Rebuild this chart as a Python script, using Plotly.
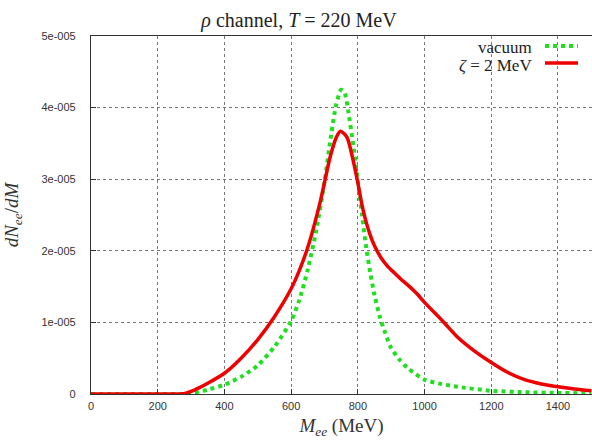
import plotly.graph_objects as go

# ---- data ----
m_vac = [0, 100, 200, 280, 300, 350, 400, 450, 500, 550, 600, 625, 650, 675, 700, 720, 735, 750,
         760, 772, 787, 800, 812, 825, 837, 850, 867, 880, 900, 925, 950, 1000, 1050, 1100, 1200,
         1300, 1400, 1500]
vac = [0, 0, 0, 0, 0.01, 0.06, 0.13, 0.24, 0.40, 0.66, 1.02, 1.32, 1.74, 2.28, 2.96, 3.62, 4.04, 4.25,
       4.21, 3.93, 3.45, 2.98, 2.52, 2.05, 1.70, 1.38, 1.06, 0.88, 0.64, 0.48, 0.36, 0.20, 0.14, 0.10, 0.045,
       0.025, 0.015, 0.01]
vac = [v * 1e-5 for v in vac]

m_z = [0, 100, 200, 265, 285, 300, 325, 350, 400, 450, 500, 550, 600, 625, 650, 687, 717, 735, 748, 767, 787,
       800, 812, 825, 837, 850, 870, 890, 910, 930, 950, 975, 1000, 1056, 1100, 1150, 1200, 1250, 1300, 1350,
       1400, 1450, 1500]
zeta = [0, 0, 0, 0, 0.01, 0.035, 0.09, 0.15, 0.29, 0.50, 0.76, 1.08, 1.47, 1.73, 2.05, 2.68, 3.31, 3.58, 3.67,
        3.59, 3.24, 2.95, 2.65, 2.40, 2.22, 2.07, 1.90, 1.78, 1.69, 1.60, 1.52, 1.41, 1.28, 1.01, 0.79, 0.60,
        0.44, 0.30, 0.20, 0.14, 0.10, 0.07, 0.046]
zeta = [v * 1e-5 for v in zeta]

x_ticks = [0, 200, 400, 600, 800, 1000, 1200, 1400]
y_ticks = [0, 1e-5, 2e-5, 3e-5, 4e-5, 5e-5]
y_ticktext = ["0", "1e-005", "2e-005", "3e-005", "4e-005", "5e-005"]

GREEN = "#1fe01f"
RED = "#ee0000"
SERIF = "Liberation Serif, Times New Roman, serif"
SANS = "Liberation Sans, Arial, sans-serif"

W, H = 592, 442
L, R, T, B = 91, 0, 36, 48

fig = go.Figure()
fig.add_trace(go.Scatter(x=m_vac, y=vac, mode="lines", name="vacuum",
                         line=dict(color=GREEN, width=4, dash="dot", shape="spline", smoothing=0.7)))
fig.add_trace(go.Scatter(x=m_z, y=zeta, mode="lines", name="ζ = 2 MeV",
                         line=dict(color=RED, width=3.5, shape="spline", smoothing=0.7)))

axis_common = dict(showgrid=True, gridcolor="#777", griddash="dot", gridwidth=1,
                   showline=True, linecolor="#333", linewidth=1.2, mirror=True,
                   ticks="inside", ticklen=5, tickcolor="#333", zeroline=False, automargin=False,
                   tickfont=dict(family=SANS, size=11, color="#333"))

fig.update_xaxes(range=[0, 1502], tickvals=x_ticks, ticklabelstandoff=2,
                 title=dict(text="<i>M<sub>ee</sub></i> (MeV)", font=dict(family=SERIF, size=19, color="#333"),
                            standoff=7), **axis_common)
fig.update_yaxes(range=[0, 5e-5], tickvals=y_ticks, ticktext=y_ticktext, ticklabelstandoff=12,
                 title=dict(text="<i>dN<sub>ee</sub></i>/<i>dM</i>", font=dict(family=SERIF, size=19, color="#333"),
                            standoff=17), **axis_common)

pw = W - L - R
ph = H - T - B


def px(xp):
    return (xp - L) / pw


def py(yp):
    return (H - B - yp) / ph


annotations = [
    dict(text="vacuum", x=px(534), y=py(47), xanchor="right", yanchor="middle"),
    dict(text="<i>ζ</i> = 2 MeV", x=px(534), y=py(65), xanchor="right", yanchor="middle"),
]
for a in annotations:
    a.update(xref="paper", yref="paper", showarrow=False, font=dict(family=SERIF, size=17, color="#222"))

shapes = [
    dict(type="line", xref="paper", yref="paper", x0=px(545), x1=px(578), y0=py(46), y1=py(46),
         line=dict(color=GREEN, width=4, dash="dot")),
    dict(type="line", xref="paper", yref="paper", x0=px(545), x1=px(578), y0=py(63), y1=py(63),
         line=dict(color=RED, width=3.5)),
]

fig.update_layout(
    width=W, height=H,
    margin=dict(l=L, r=R, t=T, b=B, pad=0),
    paper_bgcolor="white", plot_bgcolor="white",
    showlegend=False,
    title=dict(text="<i>ρ</i> channel, <i>T</i> = 220 MeV", x=299 / W, xanchor="center",
               y=1 - 20 / H, yanchor="middle", automargin=False,
               font=dict(family=SERIF, size=20, color="#222")),
    annotations=annotations, shapes=shapes,
)

fig.write_html("out.html", config={"displayModeBar": False},
               post_script="document.body.style.margin='0';document.body.style.overflow='hidden';")
